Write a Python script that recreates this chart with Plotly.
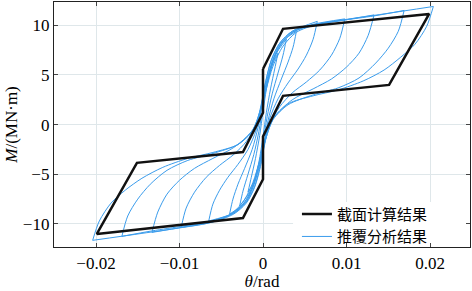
import plotly.graph_objects as go

# ---- section calculation (black skeleton polygon) ----
theta_sec = [0, 0.0024, 0.0199, 0.0151, 0.0024, 0, 0, -0.0024, -0.0199, -0.0151, -0.0024, 0, 0]
M_sec = [5.6, 9.65, 11.15, 4.0, 2.9, -1.2, -5.5, -9.4, -11.0, -3.85, -2.75, 1.2, 5.6]

# ---- pushover analysis loops (blue) ----
down_0018 = [(0.0018, 7.2), (0.0014, 5.6), (0.0009, 3.6), (0.0004, 1.2), (0, -1.2), (-0.0005, -3.8), (-0.0011, -5.8), (-0.0018, -6.8)]
up_0018 = [(-0.0018, -6.8), (-0.0014, -5.3), (-0.0009, -3.4), (-0.0004, -1.1), (0, 1.3), (0.0005, 4.0), (0.0011, 6.0), (0.0018, 7.2)]

down_0028 = [(0.0028, 8.6), (0.0024, 7.0), (0.0018, 5.2), (0.0011, 3.1), (0.0005, 0.8), (0, -1.8), (-0.0006, -4.4), (-0.0014, -6.5), (-0.0028, -8.2)]
up_0028 = [(-0.0028, -8.2), (-0.0024, -6.7), (-0.0018, -5.0), (-0.0011, -3.0), (-0.0005, -0.7), (0, 1.9), (0.0006, 4.6), (0.0014, 6.9), (0.0028, 8.6)]

down_0040 = [(0.004, 9.4), (0.0036, 7.8), (0.003, 6.3), (0.0022, 4.6), (0.0013, 2.6), (0.0006, 0.4), (0.0001, -2.0), (-0.0005, -4.4), (-0.0013, -6.5), (-0.0025, -8.1), (-0.004, -9.0)]
up_0040 = [(-0.004, -9.0), (-0.0036, -7.5), (-0.003, -6.0), (-0.0022, -4.4), (-0.0013, -2.5), (-0.0006, -0.3), (-0.0001, 2.1), (0.0005, 4.6), (0.0013, 6.8), (0.0025, 8.5), (0.004, 9.4)]

down_0065 = [(0.0065, 10.4), (0.006, 8.6), (0.0052, 7.0), (0.0042, 5.6), (0.003, 4.2), (0.0018, 2.6), (0.0008, 0.6), (0.0002, -1.8), (-0.0003, -4.0), (-0.001, -6.2), (-0.002, -7.8), (-0.0035, -8.9), (-0.0065, -9.7)]
up_0065 = [(-0.0065, -9.7), (-0.006, -8.0), (-0.0052, -6.6), (-0.0042, -5.3), (-0.003, -4.0), (-0.0018, -2.5), (-0.0008, -0.5), (-0.0002, 1.9), (0.0003, 4.2), (0.001, 6.5), (0.002, 8.2), (0.0035, 9.4), (0.0065, 10.4)]

down_0098 = [(0.0098, 10.65), (0.0092, 8.7), (0.0082, 7.0), (0.0068, 5.5), (0.0052, 4.3), (0.0035, 3.2), (0.002, 1.8), (0.0008, 0.0), (0.0002, -2.0), (-0.0003, -4.2), (-0.001, -6.3), (-0.002, -7.9), (-0.0035, -9.0), (-0.006, -9.8), (-0.0098, -10.35)]
up_0098 = [(-0.0098, -10.35), (-0.0092, -8.4), (-0.0082, -6.8), (-0.0068, -5.3), (-0.0052, -4.1), (-0.0035, -3.0), (-0.002, -1.7), (-0.0008, 0.1), (-0.0002, 2.1), (0.0003, 4.3), (0.001, 6.5), (0.002, 8.2), (0.0035, 9.4), (0.006, 10.1), (0.0098, 10.65)]

down_0133 = [(0.0133, 11.05), (0.0126, 9.0), (0.0115, 7.2), (0.010, 5.8), (0.0082, 4.6), (0.006, 3.6), (0.0035, 2.5), (0.0013, 0.7), (0.0003, -1.5), (-0.0004, -3.8), (-0.001, -5.8), (-0.0019, -7.6), (-0.0033, -8.8), (-0.0055, -9.6), (-0.0095, -10.3), (-0.0133, -10.85)]
up_0133 = [(-0.0133, -10.85), (-0.0126, -8.8), (-0.0115, -7.0), (-0.010, -5.6), (-0.0082, -4.4), (-0.006, -3.4), (-0.0035, -2.3), (-0.0013, -0.6), (-0.0003, 1.5), (0.0004, 3.9), (0.001, 6.0), (0.0019, 7.9), (0.0033, 9.2), (0.0055, 9.95), (0.0095, 10.5), (0.0133, 11.05)]

down_0169 = [(0.0169, 11.5), (0.0162, 9.4), (0.015, 7.7), (0.0135, 6.2), (0.0115, 4.7), (0.009, 3.7), (0.006, 3.0), (0.003, 2.0), (0.0012, 0.5), (0.0003, -1.5), (-0.0004, -3.7), (-0.0011, -5.8), (-0.0021, -7.7), (-0.0036, -8.9), (-0.006, -9.65), (-0.0095, -10.2), (-0.0133, -10.7), (-0.0169, -11.25)]
up_0169 = [(-0.0169, -11.25), (-0.0162, -9.2), (-0.015, -7.5), (-0.0135, -6.0), (-0.0115, -4.6), (-0.009, -3.6), (-0.006, -2.9), (-0.003, -2.0), (-0.0012, -0.5), (-0.0003, 1.5), (0.0004, 3.8), (0.0011, 6.0), (0.0021, 8.0), (0.0036, 9.3), (0.006, 10.0), (0.0095, 10.5), (0.0133, 10.95), (0.0169, 11.5)]

down_0204 = [(0.0204, 11.9), (0.0196, 9.9), (0.0182, 8.1), (0.0165, 6.8), (0.0145, 5.5), (0.012, 4.4), (0.009, 3.5), (0.006, 2.9), (0.003, 2.1), (0.0012, 0.6), (0.0003, -1.3), (-0.0004, -3.6), (-0.0012, -5.8), (-0.0024, -7.8), (-0.004, -9.1), (-0.0065, -9.9), (-0.010, -10.4), (-0.0145, -10.95), (-0.0204, -11.65)]
up_0204 = [(-0.0204, -11.65), (-0.0196, -9.7), (-0.0182, -7.9), (-0.0165, -6.6), (-0.0145, -5.4), (-0.012, -4.3), (-0.009, -3.4), (-0.006, -2.8), (-0.003, -2.0), (-0.0012, -0.6), (-0.0003, 1.3), (0.0004, 3.6), (0.0012, 5.9), (0.0024, 7.9), (0.004, 9.3), (0.0065, 10.1), (0.010, 10.6), (0.0145, 11.15), (0.0204, 11.9)]

branches = [down_0018, up_0018, down_0028, up_0028, down_0040, up_0040,
            down_0065, up_0065, down_0098, up_0098, down_0133, up_0133,
            down_0169, up_0169, down_0204, up_0204]

x_ticks = [-0.02, -0.01, 0, 0.01, 0.02]
x_ticklabels = ["\u22120.02", "\u22120.01", "0", "0.01", "0.02"]
y_ticks = [-10, -5, 0, 5, 10]
y_ticklabels = ["\u221210", "\u22125", "0", "5", "10"]

label_sec = "截面计算结果"
label_push = "推覆分析结果"

bx, by = [], []
for br in branches:
    for t, m in br:
        bx.append(t)
        by.append(m)
    bx.append(None)
    by.append(None)

fig = go.Figure()
fig.add_trace(go.Scatter(x=bx, y=by, mode="lines", name=label_push, showlegend=True,
                         line=dict(color="#3a9cec", width=1, shape="spline", smoothing=0.8),
                         connectgaps=False))
fig.add_trace(go.Scatter(x=theta_sec, y=M_sec, mode="lines", name=label_sec, showlegend=True,
                         line=dict(color="#111111", width=2.5)))

serif = "Liberation Serif"
axis_common = dict(showline=True, linecolor="#222222", linewidth=1.3, mirror="ticks",
                   ticks="inside", ticklen=4, tickcolor="#444444", tickwidth=1,
                   showgrid=True, gridcolor="#dfe7ea", gridwidth=1, zeroline=False,
                   tickfont=dict(family=serif, size=17, color="black"))

fig.update_layout(
    width=472, height=291,
    margin=dict(l=54, r=2, t=1, b=38),
    paper_bgcolor="white", plot_bgcolor="white",
    showlegend=True,
    font=dict(family=serif, size=17, color="black"),
    xaxis=dict(range=[-0.02503, 0.02479], tickvals=x_ticks, ticktext=x_ticklabels,
               title=dict(text="<i>θ</i>/rad", font=dict(family=serif, size=17, color="black"), standoff=6),
               **axis_common),
    yaxis=dict(range=[-12.32, 12.35], tickvals=y_ticks, ticktext=y_ticklabels,
               title=dict(text="<i>M</i>/(MN·m)", font=dict(family=serif, size=17, color="black"), standoff=0),
               **axis_common),
    legend=dict(x=0.584, y=0.089, xanchor="left", yanchor="middle", bgcolor="rgba(0,0,0,0)",
                borderwidth=0, traceorder="reversed", tracegroupgap=0,
                font=dict(family="Noto Sans CJK SC", size=15, color="black")),
    shapes=[dict(type="rect", xref="x", yref="y", x0=0.0036, x1=0.0248, y0=-12.32, y1=-7.8,
                 fillcolor="white", line=dict(width=0), layer="between")],
)

fig.write_html("out.html")
